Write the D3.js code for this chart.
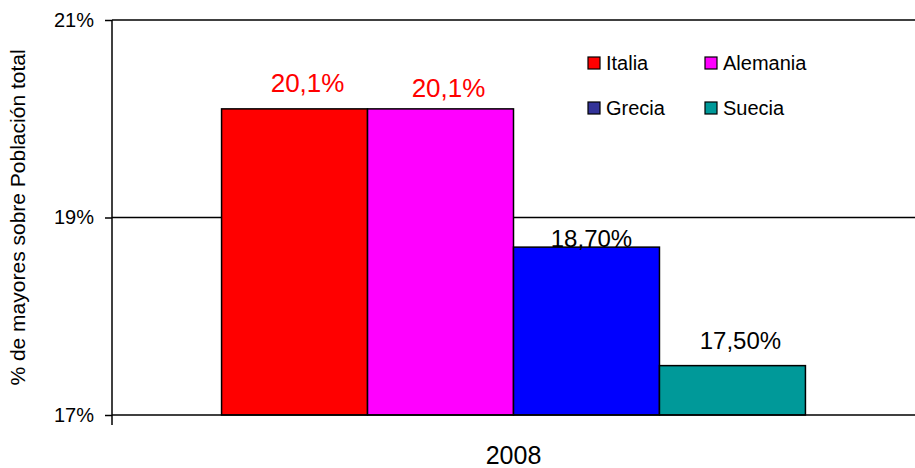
<!DOCTYPE html>
<html>
<head>
<meta charset="utf-8">
<script src="https://cdn.jsdelivr.net/npm/d3@7"></script>
<style>
  body { margin: 0; background: #fff; }
  svg { display: block; font-family: Arial, "Liberation Sans", sans-serif; }
</style>
</head>
<body>
<svg id="svg" width="915" height="468"></svg>
<script>
// data
const categories = ["2008"];
const countries = ["Italia", "Alemania", "Grecia", "Suecia"];
const values = [20.1, 20.1, 18.7, 17.5];
const valueLabels = ["20,1%", "20,1%", "18,70%", "17,50%"];
const labelColors = ["#ff0000", "#ff0000", "#000000", "#000000"];
const barColors = ["#ff0000", "#ff00ff", "#0000ff", "#009999"];
const legendColors = ["#ff0000", "#ff00ff", "#333399", "#009999"];
const yTicks = [17, 19, 21];
const yTickLabels = ["17%", "19%", "21%"];

// layout
const margin = {top: 20, right: 0, bottom: 53, left: 112};
const svg = d3.select("#svg");
const width = +svg.attr("width");
const height = +svg.attr("height");
// small per-label nudges, as in the original (dx, gap above bar)
const labelNudge = [[13, 17], [8, 12], [5, 0], [8, 17]];

const x0 = d3.scaleBand()
  .domain(categories)
  .range([margin.left, width - margin.right])
  .padding(0.158);
const x1 = d3.scaleBand()
  .domain(countries)
  .range([0, x0.bandwidth()]);
const y = d3.scaleLinear()
  .domain([17, 21])
  .range([height - margin.bottom, margin.top]);

// gridlines
svg.append("g")
  .selectAll("line")
  .data(yTicks.slice(1))
  .enter()
  .append("line")
  .attr("x1", margin.left)
  .attr("x2", width - margin.right)
  .attr("y1", d => y(d))
  .attr("y2", d => y(d))
  .attr("stroke", "#000")
  .attr("stroke-width", 1.5);

// bars
const g = svg.append("g").attr("transform", `translate(${x0("2008")},0)`);
g.selectAll("rect")
  .data(values)
  .enter()
  .append("rect")
  .attr("x", (d, i) => x1(countries[i]))
  .attr("y", d => y(d))
  .attr("width", x1.bandwidth())
  .attr("height", d => y(17) - y(d))
  .attr("fill", (d, i) => barColors[i])
  .attr("stroke", "#000")
  .attr("stroke-width", 1.5);

// value labels
g.selectAll(".lbl")
  .data(values)
  .enter()
  .append("text")
  .attr("class", "lbl")
  .attr("x", (d, i) => x1(countries[i]) + x1.bandwidth() / 2 + labelNudge[i][0])
  .attr("y", (d, i) => y(d) - labelNudge[i][1])
  .attr("text-anchor", "middle")
  .attr("fill", (d, i) => labelColors[i])
  .attr("font-size", (d, i) => i < 2 ? 26 : 24)
  .text((d, i) => valueLabels[i]);

// y axis
const yAxis = d3.axisLeft(y)
  .tickValues(yTicks)
  .tickSize(7)
  .tickPadding(11)
  .tickFormat((d, i) => yTickLabels[i]);
const ya = svg.append("g")
  .attr("transform", `translate(${margin.left},0)`)
  .call(yAxis);
ya.select(".domain").remove();
ya.selectAll(".tick line").attr("stroke", "#000").attr("stroke-width", 1.5);
ya.selectAll(".tick text")
  .attr("font-size", 20)
  .attr("font-family", "Arial, 'Liberation Sans', sans-serif")
  .attr("fill", "#000");
ya.append("line")
  .attr("x1", 0).attr("x2", 0)
  .attr("y1", y(21)).attr("y2", y(17) + 10)
  .attr("stroke", "#000")
  .attr("stroke-width", 1.5);

// x axis
const xAxis = d3.axisBottom(x0).tickSize(0).tickPadding(31);
const xa = svg.append("g")
  .attr("transform", `translate(0,${y(17)})`)
  .call(xAxis);
xa.select(".domain").remove();
xa.append("line")
  .attr("x1", margin.left).attr("x2", width - margin.right)
  .attr("stroke", "#000").attr("stroke-width", 1.5);
xa.selectAll(".tick text")
  .attr("font-size", 25)
  .attr("font-family", "Arial, 'Liberation Sans', sans-serif")
  .attr("fill", "#000");

// y title
svg.append("text")
  .attr("transform", `translate(25,${(y(21) + y(17)) / 2}) rotate(-90)`)
  .attr("text-anchor", "middle")
  .attr("font-size", 21)
  .text("% de mayores sobre Población total");

// legend
const legend = svg.append("g")
  .selectAll("g")
  .data(countries)
  .enter()
  .append("g")
  .attr("transform", (d, i) => `translate(${588 + (i % 2) * 117},${57 + Math.floor(i / 2) * 45})`);
legend.append("rect")
  .attr("width", 12)
  .attr("height", 12)
  .attr("fill", (d, i) => legendColors[i])
  .attr("stroke", "#000")
  .attr("stroke-width", 1.2);
legend.append("text")
  .attr("x", 18)
  .attr("y", 6)
  .attr("dy", "0.36em")
  .attr("font-size", 20)
  .text(d => d);
</script>
</body>
</html>
